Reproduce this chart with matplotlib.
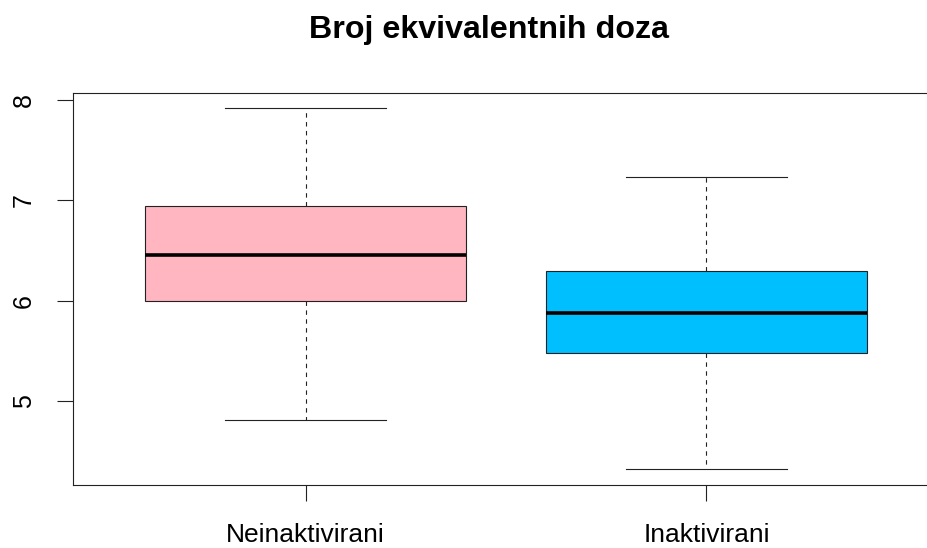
import matplotlib
matplotlib.use("Agg")
import matplotlib.pyplot as plt

# ================================
# DATA
# ================================
groups = ["Neinaktivirani", "Inaktivirani"]
whisker_low = [4.81, 4.32]
q1 = [6.00, 5.475]
median = [6.45, 5.875]
q3 = [6.945, 6.295]
whisker_high = [7.92, 7.235]
box_colors = ["#FFB6C1", "#00BFFF"]
y_ticks = [5, 6, 7, 8]

plt.rcParams['font.family'] = ['Liberation Sans', 'DejaVu Sans']

stats = []
for i, name in enumerate(groups):
    stats.append({
        "label": name,
        "whislo": whisker_low[i],
        "q1": q1[i],
        "med": median[i],
        "q3": q3[i],
        "whishi": whisker_high[i],
        "fliers": [],
    })

fig = plt.figure(figsize=(9.28, 5.48), dpi=100)
ax = fig.add_axes([73 / 928, 63 / 548, 866 / 928, 391.7 / 548])

bp = ax.bxp(stats, positions=[1, 2], widths=0.8, patch_artist=True,
            showfliers=False,
            boxprops=dict(linewidth=0.8, edgecolor="#222222"),
            medianprops=dict(color="black", linewidth=2.6, solid_capstyle="butt"),
            whiskerprops=dict(color="#222222", linewidth=0.8, linestyle=(0, (4, 4))),
            capprops=dict(color="#222222", linewidth=0.8),
            capwidths=0.4)

for patch, col in zip(bp["boxes"], box_colors):
    patch.set_facecolor(col)

ax.set_xlim(0.42, 2.58)
ax.set_ylim(4.161, 8.067)
ax.set_yticks(y_ticks)
ax.set_yticklabels([str(t) for t in y_ticks], rotation=90, va="center", fontsize=18)
ax.set_xticks([1, 2])
ax.set_xticklabels(groups, fontsize=19)
ax.tick_params(axis="both", length=11.5, width=0.8, color="#222222")
ax.tick_params(axis="y", pad=15)
ax.tick_params(axis="x", pad=16)

for s in ax.spines.values():
    s.set_linewidth(0.8)
    s.set_color("#222222")

fig.text(489 / 928, 1 - 30 / 548, "Broj ekvivalentnih doza", ha="center", va="center",
         fontsize=23.2, fontweight="bold")

fig.savefig("out.png", dpi=100)
